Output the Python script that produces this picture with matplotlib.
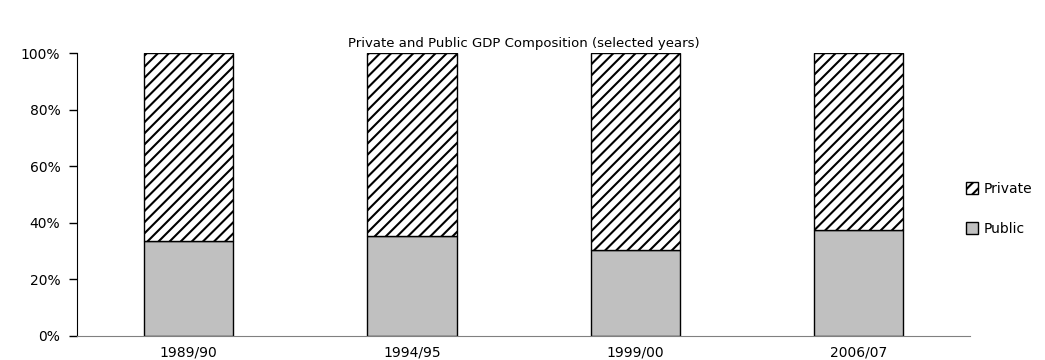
import matplotlib.pyplot as plt
import numpy as np

plt.rcParams['font.family'] = ['DejaVu Sans']
plt.rcParams['hatch.linewidth'] = 1.5

years = ['1989/90', '1994/95', '1999/00', '2006/07']
public = [33.6, 35.4, 30.4, 37.5]
private = [100 - p for p in public]

fig = plt.figure(figsize=(10.45, 3.6), dpi=100)
ax = fig.add_axes([0.0737, 0.0667, 0.855, 0.786])

x = np.arange(len(years))
ax.bar(x, public, width=0.4, color='#c0c0c0', edgecolor='black', linewidth=1, label='Public')
ax.bar(x, private, width=0.4, bottom=public, color='white', edgecolor='black',
       linewidth=1, hatch='///', label='Private')

ax.set_xlim(-0.5, len(years) - 0.5)
ax.set_ylim(0, 100)
ax.set_yticks(range(0, 101, 20))
ax.set_yticklabels([f'{v}%' for v in range(0, 101, 20)], fontsize=10)
ax.set_xticks(x)
ax.set_xticklabels(years, fontsize=10)
ax.tick_params(axis='x', length=0, pad=7)
ax.tick_params(axis='y', length=6, width=1, pad=6)

for s in ['top', 'right']:
    ax.spines[s].set_visible(False)
ax.spines['left'].set_color('black')
ax.spines['bottom'].set_color('#808080')

ax.set_title('Private and Public GDP Composition (selected years)', fontsize=9.5, pad=4)

handles, labels = ax.get_legend_handles_labels()
fig.legend(handles[::-1], labels[::-1], loc='center left', bbox_to_anchor=(0.912, 0.42),
           frameon=False, fontsize=10, handlelength=0.9, handleheight=0.9,
           handletextpad=0.4, labelspacing=1.9)

fig.savefig('out.png', dpi=100)
